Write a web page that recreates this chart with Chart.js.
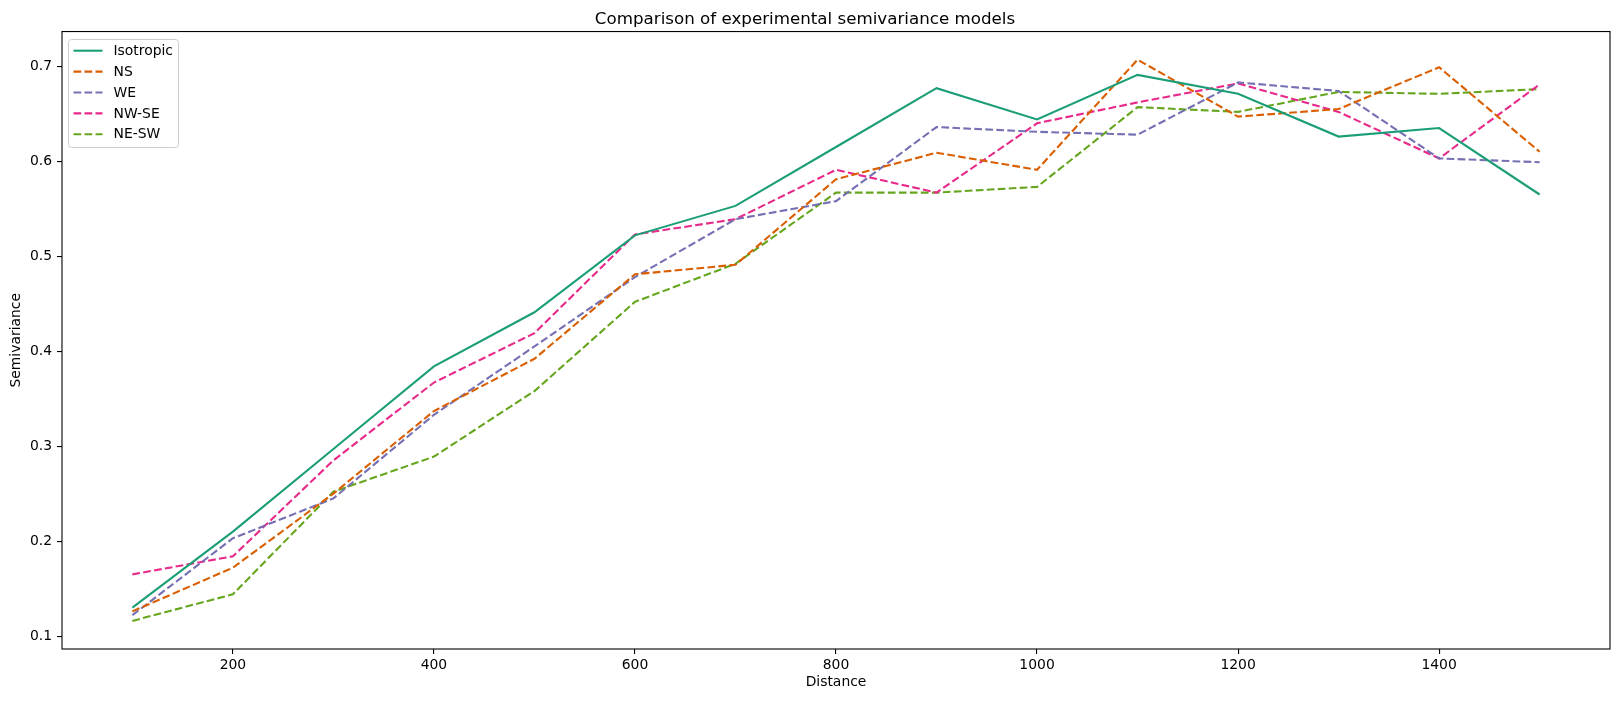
<!DOCTYPE html>
<html>
<head>
<meta charset="utf-8">
<title>Semivariance models</title>
<script src="https://cdn.jsdelivr.net/npm/chart.js@4/dist/chart.umd.min.js"></script>
<style>
  html, body { margin: 0; padding: 0; background: #fff; }
  #wrap { width: 1621px; height: 701px; position: relative; }
</style>
</head>
<body>
<div id="wrap"><canvas id="chart" width="1621" height="701"></canvas></div>
<script>
// Values
const distances = [100, 200, 300, 400, 500, 600, 700, 800, 900, 1000, 1100, 1200, 1300, 1400, 1500];
const isotropic = [0.130, 0.210, 0.297, 0.384, 0.441, 0.522, 0.553, 0.615, 0.677, 0.644, 0.691, 0.671, 0.626, 0.635, 0.565];
const ns        = [0.126, 0.172, 0.250, 0.337, 0.392, 0.481, 0.491, 0.581, 0.609, 0.591, 0.707, 0.647, 0.655, 0.699, 0.610];
const we        = [0.122, 0.203, 0.245, 0.333, 0.405, 0.478, 0.539, 0.558, 0.636, 0.631, 0.628, 0.683, 0.674, 0.603, 0.599];
const nwse      = [0.165, 0.184, 0.285, 0.367, 0.419, 0.523, 0.539, 0.591, 0.567, 0.640, 0.662, 0.682, 0.652, 0.603, 0.681];
const nesw      = [0.116, 0.144, 0.252, 0.289, 0.358, 0.452, 0.492, 0.567, 0.567, 0.573, 0.657, 0.652, 0.673, 0.671, 0.676];

const xTicks = [200, 400, 600, 800, 1000, 1200, 1400];
const yTicks = [0.1, 0.2, 0.3, 0.4, 0.5, 0.6, 0.7];

const FONT = "'DejaVu Sans', sans-serif";
const DASH = [7.7, 3.3];

function series(label, values, color, dashed) {
  return {
    label,
    data: distances.map((d, i) => ({ x: d, y: values[i] })),
    borderColor: color,
    backgroundColor: color,
    borderWidth: 2.1,
    borderDash: dashed ? DASH : [],
    pointRadius: 0,
    tension: 0,
    fill: false
  };
}

// frame around the plot + matplotlib-style legend inside upper left
const framePlugin = {
  id: "frame",
  afterDraw(chart) {
    const { ctx, chartArea: a } = chart;
    ctx.save();

    // legend box
    const bx = 68.5, by = 39.5, bw = 110, bh = 108;
    ctx.fillStyle = "rgba(255,255,255,0.8)";
    ctx.strokeStyle = "#cccccc";
    ctx.lineWidth = 1;
    ctx.beginPath();
    ctx.roundRect(bx, by, bw, bh, 3);
    ctx.fill();
    ctx.stroke();

    ctx.font = "13.9px " + FONT;
    ctx.textBaseline = "middle";
    ctx.textAlign = "left";
    chart.data.datasets.forEach((ds, i) => {
      const y = 50.7 + i * 20.9;
      ctx.strokeStyle = ds.borderColor;
      ctx.lineWidth = 2.1;
      ctx.setLineDash(ds.borderDash);
      ctx.beginPath();
      ctx.moveTo(73.5, y);
      ctx.lineTo(102.5, y);
      ctx.stroke();
      ctx.setLineDash([]);
      ctx.fillStyle = "#000";
      ctx.fillText(ds.label, 113.5, y + 0.5);
    });

    // axes frame
    ctx.strokeStyle = "#000";
    ctx.lineWidth = 1.1;
    ctx.strokeRect(a.left, a.top, a.right - a.left, a.bottom - a.top);
    ctx.restore();
  }
};

const ctx = document.getElementById("chart").getContext("2d");
new Chart(ctx, {
  type: "line",
  data: {
    datasets: [
      series("Isotropic", isotropic, "#1b9e77", false),
      series("NS", ns, "#d95f02", true),
      series("WE", we, "#7570b3", true),
      series("NW-SE", nwse, "#e7298a", true),
      series("NE-SW", nesw, "#66a61e", true)
    ]
  },
  options: {
    responsive: false,
    animation: false,
    layout: { padding: { left: 0, right: 11, top: 0, bottom: 0 } },
    plugins: {
      legend: { display: false },
      tooltip: { enabled: false },
      title: {
        display: true,
        text: "Comparison of experimental semivariance models",
        color: "#000",
        font: { family: FONT, size: 16.7, weight: "normal" },
        padding: { top: 9.5, bottom: 2 }
      }
    },
    scales: {
      x: {
        type: "linear",
        min: 30,
        max: 1570,
        afterBuildTicks: s => { s.ticks = xTicks.map(v => ({ value: v })); },
        afterFit: s => { s.height = 52; },
        ticks: {
          color: "#000",
          font: { family: FONT, size: 13.9 },
          padding: 3,
          maxRotation: 0,
          autoSkip: false,
          callback: v => String(v)
        },
        grid: { display: true, drawOnChartArea: false, drawTicks: true, tickLength: 5, color: "#000", lineWidth: 1.1 },
        border: { display: false },
        title: {
          display: true,
          text: "Distance",
          color: "#000",
          font: { family: FONT, size: 13.9 },
          padding: { top: 0, bottom: 10 }
        }
      },
      y: {
        type: "linear",
        min: 0.0864,
        max: 0.7366,
        afterBuildTicks: s => { s.ticks = yTicks.map(v => ({ value: v })); },
        afterFit: s => { s.width = 62; },
        ticks: {
          color: "#000",
          font: { family: FONT, size: 13.9 },
          padding: 5,
          autoSkip: false,
          callback: v => v.toFixed(1)
        },
        grid: { display: true, drawOnChartArea: false, drawTicks: true, tickLength: 5, color: "#000", lineWidth: 1.1 },
        border: { display: false },
        title: {
          display: true,
          text: "Semivariance",
          color: "#000",
          font: { family: FONT, size: 13.9 },
          padding: { top: 8, bottom: 0 }
        }
      }
    }
  },
  plugins: [framePlugin]
});
</script>
</body>
</html>
